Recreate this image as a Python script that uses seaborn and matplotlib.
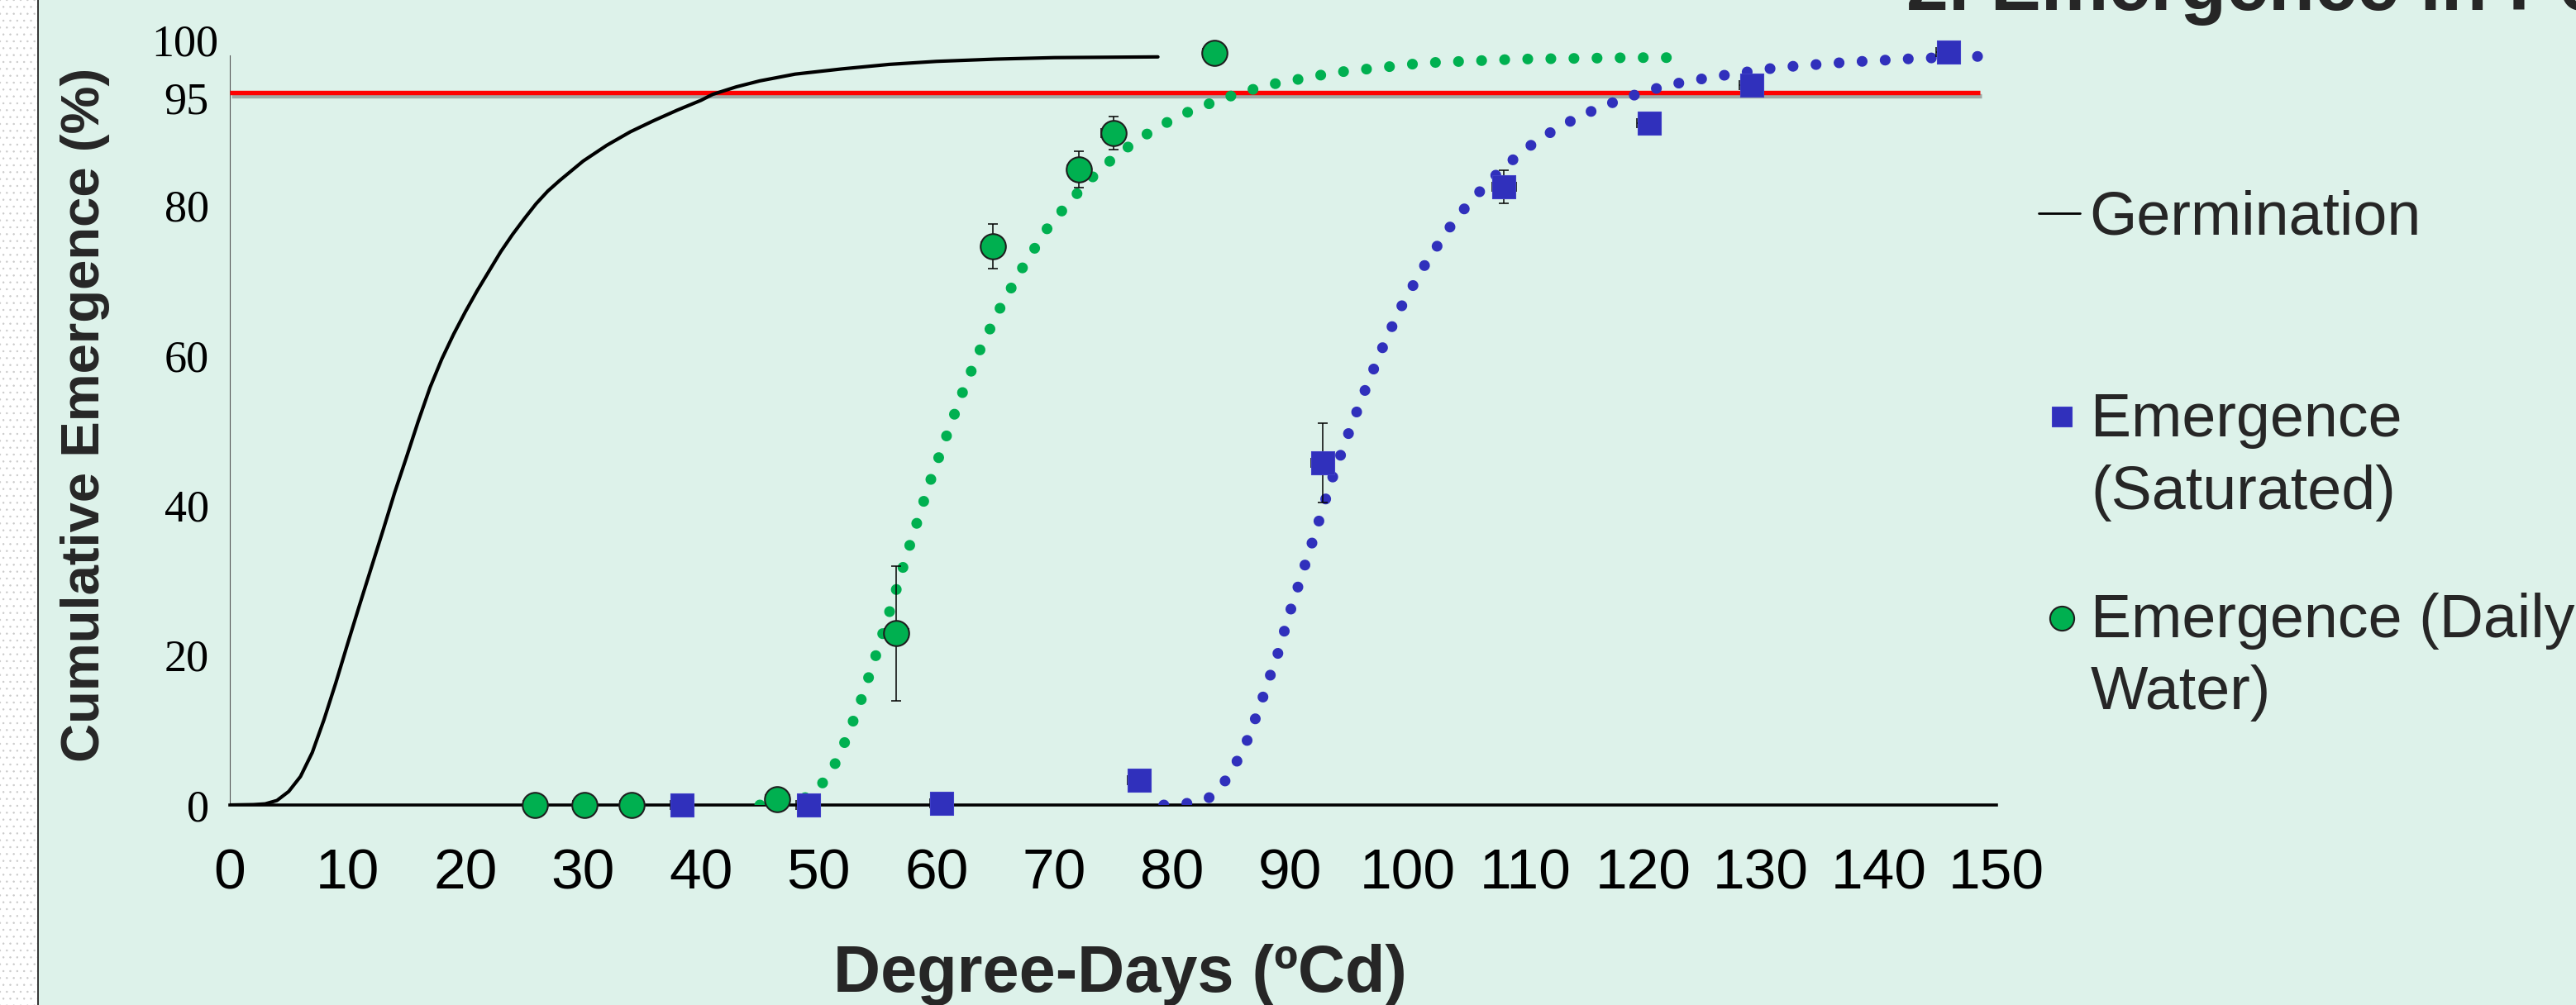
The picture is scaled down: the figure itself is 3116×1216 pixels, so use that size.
import matplotlib
matplotlib.use("Agg")
import matplotlib.pyplot as plt
import matplotlib.patheffects as pe
from matplotlib import font_manager as fm
from matplotlib.lines import Line2D
from matplotlib.patches import Rectangle
from matplotlib.transforms import ScaledTranslation
import seaborn as sns

# ---------------- data ----------------
germ_x = [0, 2, 3, 4, 5, 6, 7, 8, 9, 10, 11, 12, 13, 14, 15, 16, 17, 18, 19, 20,
          21, 22, 23, 24, 25, 26, 27, 28, 29, 30, 32, 34, 36, 38, 40, 41, 43, 45,
          48, 52, 56, 60, 65, 70, 78.8]
germ_y = [0, 0.05, 0.15, 0.6, 1.8, 3.8, 7.0, 11.4, 16.3, 21.5, 26.6, 31.6, 36.6,
          41.7, 46.4, 51.2, 55.7, 59.5, 62.8, 65.8, 68.6, 71.2, 73.8, 76.1, 78.2,
          80.2, 81.9, 83.3, 84.6, 85.9, 88.0, 89.8, 91.3, 92.7, 94.0, 94.8, 95.8,
          96.6, 97.5, 98.2, 98.8, 99.2, 99.5, 99.7, 99.8]

daily_fit_x = [45.0, 47.2, 49.1, 50.5, 51.5, 52.3, 53.45, 54.7, 55.9, 57.6, 59.4,
               60.75, 62.1, 63.6, 65.3, 67.2, 69.3, 71.3, 74.0, 77.1, 80.5, 84.2,
               88.0, 93.75, 101.4, 109.4, 119.2, 123.9]
daily_fit_y = [0.0, 0.2, 1.1, 3.2, 5.8, 8.7, 13.3, 19.2, 25.2, 34.0, 42.9, 48.8,
               54.6, 60.4, 66.0, 71.4, 76.7, 80.5, 85.0, 88.8, 91.9, 94.2, 96.0,
               97.7, 99.0, 99.5, 99.7, 99.7]

sat_fit_x = [79.3, 81.2, 83.1, 84.5, 85.5, 86.4, 87.5, 88.1, 88.8, 89.9, 91.1,
             92.3, 93.45, 94.8, 96.2, 97.7, 99.3, 101.2, 103.4, 105.3, 108.1,
             111.1, 114.6, 118.2, 122.0, 125.8, 131.5, 137.4, 143.3, 149.2]
sat_fit_y = [0.0, 0.2, 0.9, 3.2, 5.8, 8.7, 13.3, 16.3, 19.2, 25.2, 31.1, 37.0,
             42.9, 48.8, 54.6, 60.4, 66.0, 71.4, 76.7, 80.5, 85.0, 88.8, 91.9,
             94.2, 96.0, 97.1, 98.4, 99.1, 99.6, 99.9]

daily_x = [25.9, 30.1, 34.1, 46.5, 56.6, 64.8, 72.1, 75.0, 83.6]
daily_y = [0, 0, 0, 0.8, 22.9, 74.5, 84.8, 89.6, 100.3]
daily_yerr = [0, 0, 0, 0, 9.0, 3.0, 2.4, 2.2, 0]
daily_xerr = [1.0, 1.0, 1.0, 1.0, 1.0, 1.0, 1.0, 1.0, 1.0]

sat_x = [38.4, 49.1, 60.45, 77.2, 92.8, 108.2, 120.5, 129.2, 145.9]
sat_y = [0, 0, 0.2, 3.3, 45.6, 82.5, 91.0, 96.0, 100.4]
sat_yerr = [0, 0, 0, 0, 5.3, 2.2, 1.4, 1.3, 0.5]
sat_xerr = [1.0, 1.0, 1.0, 1.0, 1.0, 1.0, 1.0, 1.0, 1.0]

threshold_y = 95
threshold_x = [0, 148.6]

x_ticks = [0, 10, 20, 30, 40, 50, 60, 70, 80, 90, 100, 110, 120, 130, 140, 150]
y_ticks = [0, 20, 40, 60, 80, 95, 100]
y_ticklabels = ["0", "20", "40", "60", "80", "95", "100"]

title_text = "2. Emergence in Pots"
xlabel_text = "Degree-Days (ºCd)"
ylabel_text = "Cumulative Emergence (%)"
legend_germ = "Germination"
legend_sat = ["Emergence", "(Saturated)"]
legend_daily = ["Emergence (Daily", "Water)"]

# ---------------- style ----------------
BG = "#DDF2EA"
GREEN = "#00B050"
BLUE = "#3030BC"
RED = "#FF0000"

sns.set_style("white")


def has_font(name):
    try:
        fm.findfont(fm.FontProperties(family=name), fallback_to_default=False)
        return True
    except Exception:
        return False


SANS = "Liberation Sans" if has_font("Liberation Sans") else "DejaVu Sans"
SERIF = "Liberation Serif" if has_font("Liberation Serif") else "DejaVu Serif"
NARROW = "Liberation Sans Narrow" if has_font("Liberation Sans Narrow") else None

plt.rcParams["font.family"] = [SANS, "DejaVu Sans"]
plt.rcParams["hatch.color"] = "#C9C9C9"
plt.rcParams["hatch.linewidth"] = 0.5

W, H, DPI = 3116, 1216, 100
fig = plt.figure(figsize=(W / DPI, H / DPI), dpi=DPI, facecolor=BG)

# left decorative strip (slide edge)
strip = Rectangle((0, 0), 45 / W, 1, transform=fig.transFigure, facecolor="white",
                  edgecolor="#C9C9C9", lw=0, hatch="..", zorder=0)
fig.add_artist(strip)
fig.add_artist(Line2D([46 / W, 46 / W], [0, 1], transform=fig.transFigure,
                      color="#333333", lw=1.4))

ax_left, ax_right = 278 / W, 2415 / W
ax_bottom_px, ax_top_px = 974, 53.4
ax = fig.add_axes([ax_left, 1 - ax_bottom_px / H, ax_right - ax_left,
                   (ax_bottom_px - ax_top_px) / H])
ax.set_facecolor(BG)
ax.patch.set_alpha(0)

# threshold line with shadow
ax.hlines(threshold_y, threshold_x[0], threshold_x[1], color=RED, lw=3.9, zorder=3,
          path_effects=[pe.SimpleLineShadow(offset=(1.5, -2.5), shadow_color="#6f6f6f",
                                            alpha=0.55), pe.Normal()])

# germination curve
sns.lineplot(x=germ_x, y=germ_y, ax=ax, color="black", lw=3.0, sort=False,
             estimator=None, zorder=6)
ax.lines[-1].set_solid_joinstyle("round")

# fitted dotted curves
for fx, fy_, col in [(daily_fit_x, daily_fit_y, GREEN), (sat_fit_x, sat_fit_y, BLUE)]:
    sns.lineplot(x=fx, y=fy_, ax=ax, color=col, lw=9.4, sort=False, estimator=None,
                 zorder=3)
    ln = ax.lines[-1]
    ln.set_linestyle((0, (0.01, 2.13)))
    ln.set_dash_capstyle("round")

# error bars
for xs, ys, xe, ye in [(daily_x, daily_y, daily_xerr, daily_yerr),
                       (sat_x, sat_y, sat_xerr, sat_yerr)]:
    cont = ax.errorbar(xs, ys, xerr=xe, yerr=ye, fmt="none", ecolor="black",
                       elinewidth=1.1, capsize=4.6, capthick=1.1, zorder=4)
    for art in cont.get_children():
        art.set_clip_on(False)

# markers
sns.scatterplot(x=sat_x, y=sat_y, ax=ax, marker="s", s=19.5 ** 2, color=BLUE,
                edgecolor="#4040C8", linewidth=0.8, clip_on=False, zorder=5)
sns.scatterplot(x=daily_x, y=daily_y, ax=ax, marker="o", s=22 ** 2, color=GREEN,
                edgecolor="#1E1E1E", linewidth=1.5, clip_on=False, zorder=5)

# axes
ax.set_xlim(0, 150)
ax.set_ylim(0, 101.5)
for side in ["top", "right"]:
    ax.spines[side].set_visible(False)
ax.spines["bottom"].set_color("black")
ax.spines["bottom"].set_linewidth(2.6)
ax.spines["left"].set_color("#555555")
ax.spines["left"].set_linewidth(0.8)
ax.spines["left"].set_bounds(0, 100)

ax.set_xticks(x_ticks)
ax.set_xticklabels([str(t) for t in x_ticks])
ax.set_yticks(y_ticks)
ax.set_yticklabels(y_ticklabels)
ax.tick_params(axis="x", direction="out", length=15, width=2.0, color="black",
               labelsize=50, pad=22, labelcolor="black")
ax.tick_params(axis="y", direction="out", length=9, width=0.9, color="#555555",
               labelsize=39, pad=9, labelcolor="black", labelfontfamily=SERIF)

for lab in ax.get_yticklabels():
    if lab.get_text() == "100":
        lab.set_va("baseline")
        lab.set_transform(lab.get_transform() +
                          ScaledTranslation(11 / DPI, 0, fig.dpi_scale_trans))
    elif lab.get_text() == "95":
        lab.set_transform(lab.get_transform() +
                          ScaledTranslation(0, -6 / DPI, fig.dpi_scale_trans))

# axis labels
ax.set_xlabel(xlabel_text, fontsize=57, fontweight="bold", va="baseline")
ax.xaxis.set_label_coords(0.504, -(1200 - ax_bottom_px) / (ax_bottom_px - ax_top_px))
if NARROW:
    ax.set_ylabel(ylabel_text, fontsize=57, fontweight="bold", va="center",
                  ha="center", family=[NARROW, SANS])
else:
    ax.set_ylabel(ylabel_text, fontsize=47, fontweight="bold", va="center",
                  ha="center")
ax.yaxis.set_label_coords((103 - 278) / (2415 - 278),
                          (ax_bottom_px - 502) / (ax_bottom_px - ax_top_px))

# title (partly outside the slide crop, as in the reference)
fig.text(2306 / W, 1 - 12 / H, title_text, fontsize=66, fontweight="bold",
         ha="left", va="baseline")

# legend (drawn as slide text)
def fy(px):
    return 1 - px / H

fig.add_artist(Line2D([2466 / W, 2516 / W], [fy(258), fy(258)],
                      transform=fig.transFigure, color="black", lw=2.0))
fig.text(2527 / W, fy(283), legend_germ, fontsize=53, ha="left", va="baseline")
fig.add_artist(Line2D([2494 / W], [fy(504)], transform=fig.transFigure, marker="s",
                      markersize=17, color=BLUE, markeredgecolor="#4040C8",
                      markeredgewidth=0.8, linestyle="none"))
fig.text(2529 / W, fy(528), legend_sat[0], fontsize=53, ha="left", va="baseline")
fig.text(2529 / W, fy(616), legend_sat[1], fontsize=53, ha="left", va="baseline")
fig.add_artist(Line2D([2494 / W], [fy(748)], transform=fig.transFigure, marker="o",
                      markersize=21, color=GREEN, markeredgecolor="#1E1E1E",
                      markeredgewidth=1.5, linestyle="none"))
fig.text(2529 / W, fy(771), legend_daily[0], fontsize=53, ha="left", va="baseline")
fig.text(2529 / W, fy(858), legend_daily[1], fontsize=53, ha="left", va="baseline")

fig.savefig("out.png", dpi=DPI, facecolor=BG)
